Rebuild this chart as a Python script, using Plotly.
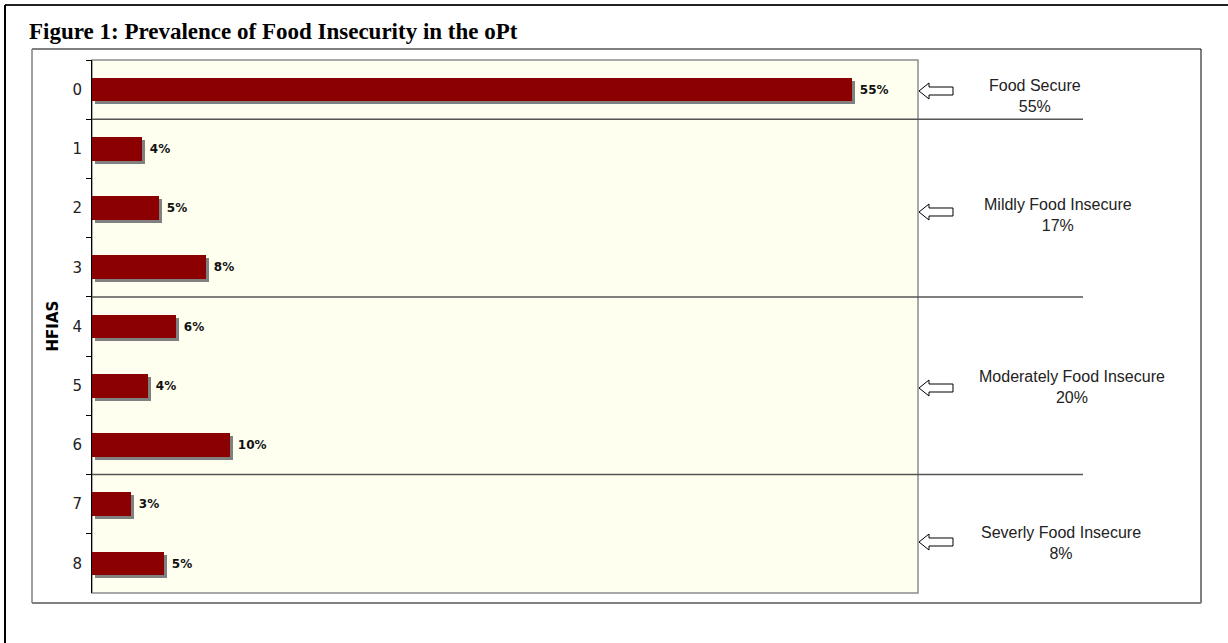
import plotly.graph_objects as go

# ---- data ----
categories = ["0", "1", "2", "3", "4", "5", "6", "7", "8"]
values = [55.2, 3.6, 4.9, 8.3, 6.1, 4.1, 10.0, 2.8, 5.2]
value_labels = ["55%", "4%", "5%", "8%", "6%", "4%", "10%", "3%", "5%"]
group_names = ["Food Secure", "Mildly Food Insecure", "Moderately Food Insecure", "Severly Food Insecure"]
group_sizes = [1, 3, 3, 2]
title_text = "Figure 1: Prevalence of Food Insecurity in the oPt"
axis_title = "HFIAS"

# ---- layout geometry (pixels) ----
W, H = 1228, 643
L, R, T, B = 92, 918, 60, 593
XMAX = 60.0
BAR_W = 0.4


def PX(p):
    return (p - L) / (R - L)


def PY(p):
    return (B - p) / (B - T)


px_per_x = (R - L) / XMAX
px_per_cat = (B - T) / len(categories)
sdx = 3 / px_per_x
sdy = 3 / px_per_cat

# group sums -> percents
group_pcts = []
i = 0
for n in group_sizes:
    group_pcts.append(round(sum(values[i:i + n])))
    i += n

fig = go.Figure()
# shadow
fig.add_trace(go.Bar(
    y=categories, x=values, base=[sdx] * len(values), orientation="h",
    width=BAR_W, offset=-BAR_W / 2 + sdy,
    marker=dict(color="#808080", line=dict(width=0)),
    hoverinfo="skip", showlegend=False,
))
# main bars
fig.add_trace(go.Bar(
    y=categories, x=values, orientation="h", width=BAR_W, offset=-BAR_W / 2,
    marker=dict(color="#8B0000", line=dict(width=0)),
    text=value_labels, texttemplate="\u2009\u2009%{text}", textposition="outside",
    textfont=dict(family="DejaVu Sans", size=12, color="#111111", weight="bold"),
    cliponaxis=False, constraintext="none",
    hoverinfo="skip", showlegend=False,
))

shapes = []
# outer frame
shapes.append(dict(type="line", xref="paper", yref="paper", x0=PX(5), x1=PX(W + 20), y0=PY(5), y1=PY(5),
                   line=dict(color="#222222", width=2)))
shapes.append(dict(type="line", xref="paper", yref="paper", x0=PX(5), x1=PX(5), y0=PY(5), y1=PY(H + 20),
                   line=dict(color="#000000", width=2)))
# inner frame
shapes.append(dict(type="line", xref="paper", yref="paper", x0=PX(32), x1=PX(1201), y0=PY(49), y1=PY(49),
                   line=dict(color="#000000", width=1)))
shapes.append(dict(type="line", xref="paper", yref="paper", x0=PX(1201), x1=PX(1201), y0=PY(49), y1=PY(603),
                   line=dict(color="#000000", width=1)))
shapes.append(dict(type="line", xref="paper", yref="paper", x0=PX(32), x1=PX(32), y0=PY(49), y1=PY(603),
                   line=dict(color="#808080", width=1.5)))
shapes.append(dict(type="line", xref="paper", yref="paper", x0=PX(32), x1=PX(1201), y0=PY(603), y1=PY(603),
                   line=dict(color="#808080", width=2)))
# plot area border
shapes.append(dict(type="rect", xref="paper", yref="paper", x0=0, x1=1, y0=0, y1=1,
                   line=dict(color="#8c8c8c", width=1.5), layer="below"))
# group separators
cum = 0
for n in group_sizes[:-1]:
    cum += n
    shapes.append(dict(type="line", xref="paper", yref="y", x0=0, x1=PX(1083), y0=cum - 0.5, y1=cum - 0.5,
                       line=dict(color="#555555", width=1.5)))

# arrows and group labels
arrow_y = [91, 212, 388, 542]
label_xy = [(1035, 96), (1058, 215), (1072, 387), (1061, 543)]
annotations = []
for k, yc in enumerate(arrow_y):
    pts = [(919, yc), (929, yc - 8), (929, yc - 4), (953, yc - 4), (953, yc + 4), (929, yc + 4), (929, yc + 8)]
    path = "M " + " L ".join(f"{PX(a):.5f},{PY(b):.5f}" for a, b in pts) + " Z"
    shapes.append(dict(type="path", xref="paper", yref="paper", path=path,
                       fillcolor="white", line=dict(color="#000000", width=1)))
    cx, cy = label_xy[k]
    annotations.append(dict(
        xref="paper", yref="paper", x=PX(cx), y=PY(cy), xanchor="center", yanchor="middle",
        text=f"{group_names[k]}<br>{group_pcts[k]}%", showarrow=False, align="center",
        font=dict(family="Arial, Liberation Sans", size=16, color="#222222"),
    ))

annotations.append(dict(
    xref="paper", yref="paper", x=PX(27), y=PY(31), xanchor="left", yanchor="middle",
    text=f"<b>{title_text}</b>", showarrow=False,
    font=dict(family="Times New Roman, Liberation Serif", size=23, color="#000000"),
))
annotations.append(dict(
    xref="paper", yref="paper", x=PX(52), y=0.5, xanchor="center", yanchor="middle",
    text=f"<b>{axis_title}</b>", showarrow=False, textangle=-90,
    font=dict(family="DejaVu Sans", size=15, color="#000000"),
))

fig.update_layout(
    width=W, height=H, autosize=False,
    margin=dict(l=L, r=W - R, t=T, b=H - B, pad=0),
    paper_bgcolor="white", plot_bgcolor="#FFFFF0",
    barmode="overlay", bargap=0,
    shapes=shapes, annotations=annotations,
    xaxis=dict(range=[0, XMAX], showticklabels=False, showgrid=False, zeroline=False,
               showline=False, ticks="", fixedrange=True),
    yaxis=dict(type="category", categoryorder="array", categoryarray=categories,
               range=[len(categories) - 0.5, -0.5], tickson="boundaries", ticks="outside",
               ticklen=5, tickcolor="#000000", tickwidth=1, showline=True, linecolor="#000000",
               linewidth=1, showgrid=False, zeroline=False, ticklabelstandoff=6,
               tickfont=dict(family="Verdana, DejaVu Sans", size=15, color="#222222")),
    showlegend=False,
)

fig.write_html("out.html")
